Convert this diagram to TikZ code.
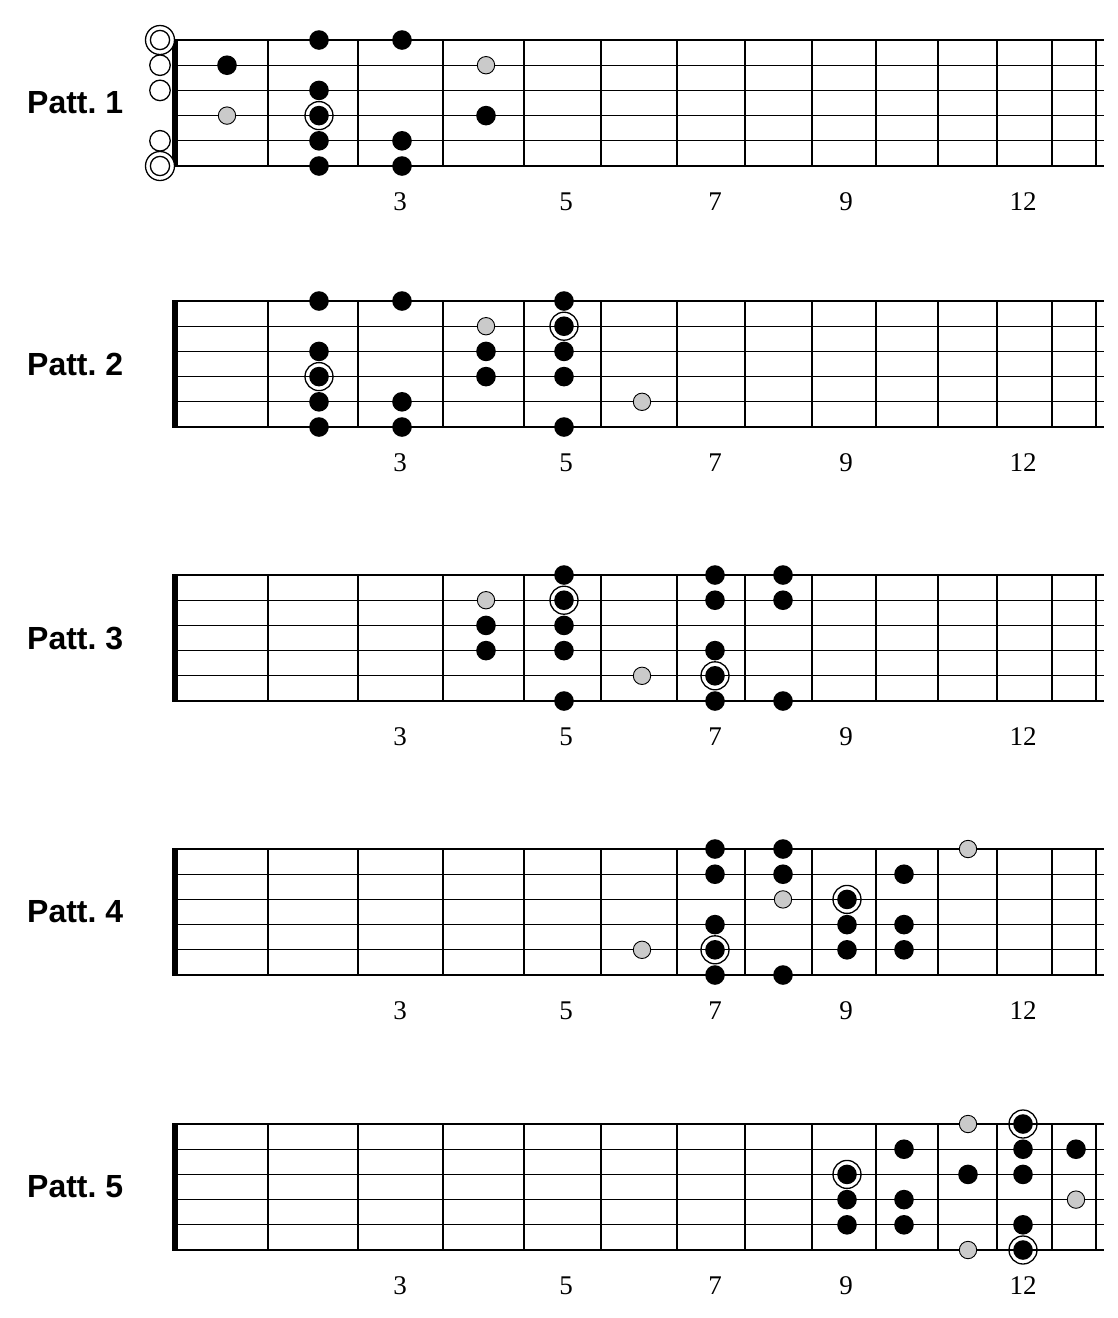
\documentclass[tikz,border=0pt]{standalone}
\usepackage{fontspec}
\newfontfamily\labfont{Liberation Sans}
\newfontfamily\numfont{Liberation Serif}
\definecolor{dotgray}{RGB}{202,202,202}
\newcommand\mk[4]{%
  \pgfmathsetmacro\mktop{{40,301,575,849,1124}[#2-1]}%
  \pgfmathsetmacro\mkx{{160,227,319,402,486,564,642,715,783,847,904,968,1023,1076}[#3]}%
  \pgfmathsetmacro\mky{\mktop+(#4-1)*25.2}%
  \node[#1] (#1-#2-#3-#4) at (\mkx,\mky) {};}
\begin{document}
\begin{tikzpicture}[x=1pt,y=-1pt,
  stringline/.style={line width=1.3pt,black},
  fretline/.style={line width=2.6pt,black},
  nutline/.style={line width=6pt,black},
  blackdot/.style={circle,fill=black,minimum size=19.6pt,inner sep=0pt},
  graydot/.style={circle,fill=dotgray,draw=black,line width=0.9pt,minimum size=17.4pt,inner sep=0pt},
  rootdot/.style={circle,draw=black,line width=1.3pt,minimum size=28pt,inner sep=0pt,
    path picture={\fill[black] (path picture bounding box.center) circle (9.8pt);}},
  opendot/.style={circle,draw=black,fill=white,line width=1.3pt,minimum size=20.5pt,inner sep=0pt},
  opendouble/.style={circle,draw=black,fill=white,line width=1.3pt,minimum size=29pt,inner sep=0pt,
    path picture={\draw[line width=1.3pt] (path picture bounding box.center) circle (9.6pt);}},
  pattlabel/.style={anchor=west,inner sep=0pt,font=\labfont\bfseries\fontsize{32}{38}\selectfont},
  fretnum/.style={anchor=base,inner sep=0pt,font=\numfont\fontsize{27}{32}\selectfont}]
\useasboundingbox (0,0) rectangle (1118,1318);
\foreach \b/\t in {1/40,2/301,3/575,4/849,5/1124}{
  \foreach \s in {0,...,5}{
    \draw[stringline] (174,\t+\s*25.2) -- (1104,\t+\s*25.2);
  }
  \foreach \x in {268,358,443,524,601,677,745,812,876,938,997,1052,1096}{
    \draw[fretline] (\x,\t) -- (\x,\t+126);
  }
  \draw[nutline] (175,\t-0.65) -- (175,\t+126.65);
  \node[pattlabel] (patt\b) at (27,\t+63) {Patt.\ \b};
  \foreach \n/\x in {3/400,5/566,7/715,9/846,12/1023}{
    \node[fretnum] (num\b-\n) at (\x,\t+170) {\n};
  }
}
% Pattern 1
\mk{opendouble}{1}{0}{1}
\mk{opendot}{1}{0}{2}
\mk{opendot}{1}{0}{3}
\mk{opendot}{1}{0}{5}
\mk{opendouble}{1}{0}{6}
\foreach \f/\s in {1/2,2/1,2/3,2/5,2/6,3/1,3/5,3/6,4/4}{\mk{blackdot}{1}{\f}{\s}}
\foreach \f/\s in {1/4,4/2}{\mk{graydot}{1}{\f}{\s}}
\mk{rootdot}{1}{2}{4}
% Pattern 2
\foreach \f/\s in {2/1,2/3,2/5,2/6,3/1,3/5,3/6,4/3,4/4,5/1,5/3,5/4,5/6}{\mk{blackdot}{2}{\f}{\s}}
\foreach \f/\s in {4/2,6/5}{\mk{graydot}{2}{\f}{\s}}
\foreach \f/\s in {2/4,5/2}{\mk{rootdot}{2}{\f}{\s}}
% Pattern 3
\foreach \f/\s in {4/3,4/4,5/1,5/3,5/4,5/6,7/1,7/2,7/4,7/6,8/1,8/2,8/6}{\mk{blackdot}{3}{\f}{\s}}
\foreach \f/\s in {4/2,6/5}{\mk{graydot}{3}{\f}{\s}}
\foreach \f/\s in {5/2,7/5}{\mk{rootdot}{3}{\f}{\s}}
% Pattern 4
\foreach \f/\s in {7/1,7/2,7/4,7/6,8/1,8/2,8/6,9/4,9/5,10/2,10/4,10/5}{\mk{blackdot}{4}{\f}{\s}}
\foreach \f/\s in {6/5,8/3,11/1}{\mk{graydot}{4}{\f}{\s}}
\foreach \f/\s in {7/5,9/3}{\mk{rootdot}{4}{\f}{\s}}
% Pattern 5
\foreach \f/\s in {9/4,9/5,10/2,10/4,10/5,11/3,12/2,12/3,12/5,13/2}{\mk{blackdot}{5}{\f}{\s}}
\foreach \f/\s in {11/1,11/6,13/4}{\mk{graydot}{5}{\f}{\s}}
\foreach \f/\s in {9/3,12/1,12/6}{\mk{rootdot}{5}{\f}{\s}}
\end{tikzpicture}
\end{document}
